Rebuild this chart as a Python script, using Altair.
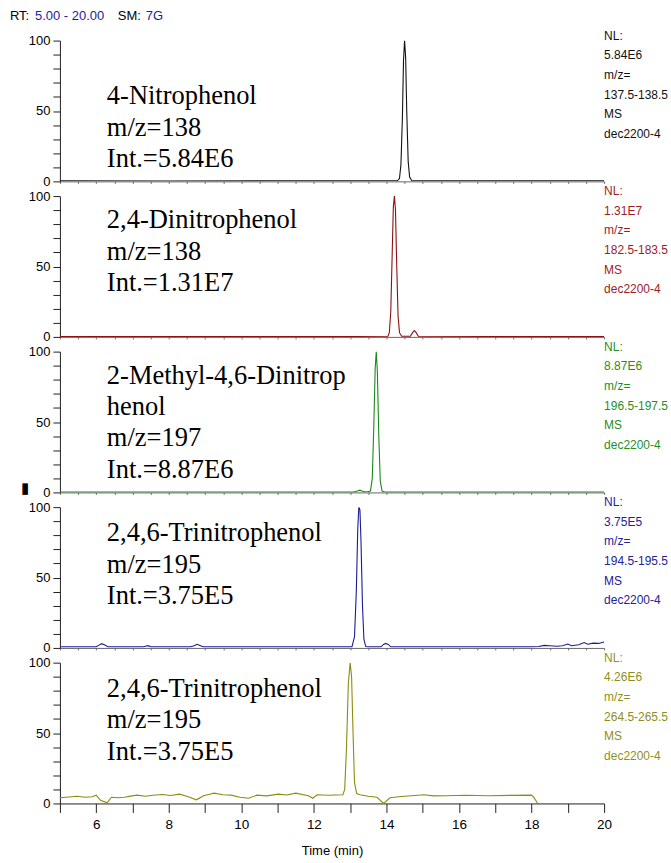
import altair as alt
import pandas as pd

# ---------------- chromatogram traces (time in min, relative abundance %) ----
nitro_t = [5.0, 8.0, 11.0, 14.30, 14.36, 14.40, 14.44, 14.47, 14.50, 14.53, 14.56, 14.60, 14.64, 14.70, 17.0, 20.0]
nitro_i = [0.4, 0.3, 0.4, 0.4, 2, 12, 45, 85, 100, 88, 50, 14, 3, 0.5, 0.4, 0.4]

dinitro_t = [5.0, 9.0, 13.0, 14.04, 14.08, 14.12, 14.16, 14.19, 14.22, 14.25, 14.28, 14.32, 14.36, 14.42,
             14.66, 14.72, 14.77, 14.82, 14.88, 17.0, 20.0]
dinitro_i = [0.3, 0.3, 0.3, 0.4, 3, 18, 60, 92, 100, 90, 55, 15, 3, 0.5,
             0.5, 3, 4.5, 3, 0.5, 0.3, 0.3]

methyl_t = [5.0, 9.0, 13.10, 13.20, 13.27, 13.34, 13.45, 13.56, 13.61, 13.65, 13.69, 13.72, 13.75, 13.79,
            13.83, 13.88, 13.95, 17.0, 20.0]
methyl_i = [0.3, 0.3, 0.3, 1.0, 1.6, 0.8, 0.3, 1, 10, 45, 88, 100, 86, 40,
            8, 1, 0.3, 0.3, 0.3]

trinitro_t = [5.0, 6.0, 6.08, 6.15, 6.24, 6.32, 7.30, 7.38, 7.43, 7.50, 8.60, 8.70, 8.78, 8.86, 8.95,
              13.05, 13.12, 13.17, 13.21, 13.24, 13.27, 13.30, 13.34, 13.38, 13.43, 13.50,
              13.85, 13.92, 13.98, 14.05, 14.12, 18.0, 18.2, 18.35, 18.5, 18.7, 18.85, 19.0, 19.1,
              19.3, 19.45, 19.55, 19.7, 19.85, 20.0]
trinitro_i = [0.8, 0.8, 2.0, 3.0, 2.0, 0.8, 0.8, 1.4, 1.6, 0.8, 0.8, 1.6, 2.6, 1.8, 0.8,
              0.8, 8, 40, 85, 100, 98, 75, 30, 6, 1, 0.8,
              0.8, 2.5, 3.2, 2.5, 0.8, 0.8, 1.0, 1.8, 1.5, 1.2, 1.6, 2.8, 1.6,
              2.2, 3.8, 2.6, 3.4, 3.2, 4.2]

picric_t = [5.0, 5.25, 5.47, 5.7, 5.89, 6.0, 6.12, 6.30, 6.42, 6.6, 6.77, 6.95, 7.13, 7.36, 7.55, 7.83,
            8.05, 8.30, 8.54, 8.76, 8.96, 9.1, 9.25, 9.5, 9.72, 9.96, 10.2, 10.43, 10.7, 11.02,
            11.25, 11.5, 11.85, 11.97, 12.09, 12.4, 12.80,
            12.85, 12.90, 12.95, 13.00, 13.04, 13.08, 13.12, 13.18,
            13.27, 13.50, 13.74, 13.92, 14.10, 14.4, 14.68, 15.04, 15.3, 15.63, 16.2, 16.81, 17.4,
            17.99, 18.05, 18.17, 20.0]
picric_i = [4.0, 4.6, 5.1, 4.4, 4.8, 5.9, 2.2, 0.4, 4.4, 4.0, 4.4, 5.2, 5.9, 5.1, 5.8, 6.4,
            5.6, 6.6, 4.8, 2.6, 5.5, 6.4, 7.3, 6.2, 5.9, 4.4, 3.7, 5.9, 5.4, 6.6,
            6.0, 7.3, 5.5, 3.7, 6.2, 5.8, 6.2,
            10, 40, 85, 100, 90, 50, 15, 7,
            6.2, 5.1, 4.4, 0.0, 4.0, 4.9, 5.5, 6.2, 5.4, 5.5, 5.8, 5.5, 5.7,
            5.9, 4.8, 0.0, 0.0]

# ---------------- axis ticks ---------------------------------------------------
time_ticks = [5, 5.5, 6, 6.5, 7, 7.5, 8, 8.5, 9, 9.5, 10, 10.5, 11, 11.5, 12, 12.5,
              13, 13.5, 14, 14.5, 15, 15.5, 16, 16.5, 17, 17.5, 18, 18.5, 19, 19.5, 20]
abund_ticks = [0, 10, 20, 30, 40, 50, 60, 70, 80, 90, 100]

SANS = "Liberation Sans"
SERIF = "Liberation Serif"
W, H = 545, 141

one_row = pd.DataFrame({"k": [0]})


def text_layer(text, x, y, color="black", size=12.5, font=SANS, line_height=None, baseline="middle"):
    kw = dict(align="left", baseline=baseline, font=font, fontSize=size, color=color)
    if line_height is not None:
        kw.update(lineBreak="\n", lineHeight=line_height)
    return alt.Chart(one_row).mark_text(**kw).encode(
        x=alt.value(x), y=alt.value(y), text=alt.value(text)
    )


def panel(times, values, color, info_color, name_lines, name_y, info_lines, bottom=False):
    df = pd.DataFrame({"t": times, "i": values})
    if bottom:
        x_axis = alt.Axis(values=time_ticks, format="d",
                          labelExpr="datum.value % 2 == 0 ? datum.label : ''",
                          tickSize=9, labelFontSize=13.5, labelPadding=5, labelFlush=False,
                          labelOverlap=False, title="Time (min)", titleFontSize=13,
                          titleFontWeight="normal", titleFont=SANS, titlePadding=14,
                          domainColor="#222222", tickColor="#222222")
    else:
        x_axis = alt.Axis(values=time_ticks, labels=False, tickSize=2, title=None,
                          domainColor="#666666", tickColor="#666666")
    y_axis = alt.Axis(values=abund_ticks, labelExpr="datum.value % 50 == 0 ? datum.label : ''",
                      tickSize=7, labelFontSize=13, labelPadding=3, labelFlush=False,
                      labelOverlap=False, title=None, domainColor="#222222", tickColor="#222222")
    trace = alt.Chart(df).mark_line(color=color, strokeWidth=1.1, clip=True).encode(
        x=alt.X("t:Q", scale=alt.Scale(domain=[5, 20], nice=False, zero=False), axis=x_axis),
        y=alt.Y("i:Q", scale=alt.Scale(domain=[0, 100], nice=False), axis=y_axis),
    )
    name = text_layer("\n".join(name_lines), 47, name_y, size=26.5, font=SERIF,
                      line_height=31.5, baseline="alphabetic")
    info = text_layer("\n".join(info_lines), 545, -1, color=info_color, size=12,
                      line_height=19.7, baseline="alphabetic")
    return [trace, name, info]


BLACK, RED, GREEN, BLUE, OLIVE = "#111111", "#8f1010", "#1a8a1a", "#1c1c96", "#8c8c10"
RED_T, GREEN_T, BLUE_T, OLIVE_T = "#a01c1c", "#1f8f1f", "#22229a", "#8f8f1a"

p1 = panel(nitro_t, nitro_i, BLACK, "#111111",
           ["4-Nitrophenol", "m/z=138", "Int.=5.84E6"], 64,
           ["NL:", "5.84E6", "m/z=", "137.5-138.5", "MS", "dec2200-4"])
header = [
    text_layer("RT:", -50, -25, size=13),
    text_layer("5.00 - 20.00", -25, -25, color="#1c1ca0", size=13),
    text_layer("SM:", 58, -25, size=13),
    text_layer("7G", 86, -25, color="#1c1ca0", size=13),
]
chart1 = alt.layer(*(p1 + header)).properties(width=W, height=H)

chart2 = alt.layer(*panel(dinitro_t, dinitro_i, RED, RED_T,
                          ["2,4-Dinitrophenol", "m/z=138", "Int.=1.31E7"], 32,
                          ["NL:", "1.31E7", "m/z=", "182.5-183.5", "MS", "dec2200-4"])
                   ).properties(width=W, height=H)

p3 = panel(methyl_t, methyl_i, GREEN, GREEN_T,
           ["2-Methyl-4,6-Dinitrop", "henol", "m/z=197", "Int.=8.87E6"], 32,
           ["NL:", "8.87E6", "m/z=", "196.5-197.5", "MS", "dec2200-4"])
marker = text_layer("\u25ae", -39, 137, size=15)
chart3 = alt.layer(*(p3 + [marker])).properties(width=W, height=H)

chart4 = alt.layer(*panel(trinitro_t, trinitro_i, BLUE, BLUE_T,
                          ["2,4,6-Trinitrophenol", "m/z=195", "Int.=3.75E5"], 34,
                          ["NL:", "3.75E5", "m/z=", "194.5-195.5", "MS", "dec2200-4"])
                   ).properties(width=W, height=H)

chart5 = alt.layer(*panel(picric_t, picric_i, OLIVE, OLIVE_T,
                          ["2,4,6-Trinitrophenol", "m/z=195", "Int.=3.75E5"], 34,
                          ["NL:", "4.26E6", "m/z=", "264.5-265.5", "MS", "dec2200-4"],
                          bottom=True)
                   ).properties(width=W, height=H)

chart = alt.vconcat(chart1, chart2, chart3, chart4, chart5, spacing=14.75, bounds="flush").properties(
    padding={"left": 10, "top": 9, "right": 2, "bottom": 2}
).configure_view(stroke=None).configure_axis(grid=False, labelFont=SANS, labelColor="black")

chart.save("out.html", embed_options={"renderer": "svg", "actions": False})
